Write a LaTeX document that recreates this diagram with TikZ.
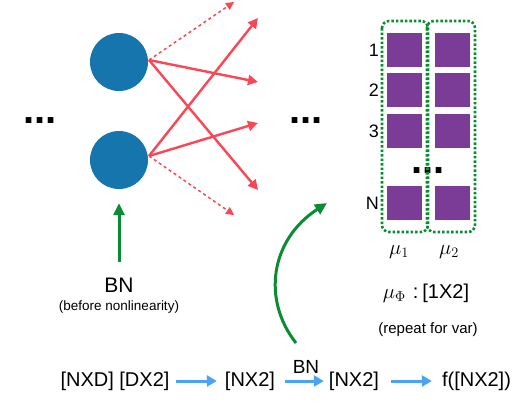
\documentclass[tikz,border=0pt]{standalone}
\usepackage{fontspec}
\setmainfont{Liberation Sans}
\usetikzlibrary{arrows.meta}
\definecolor{nblue}{RGB}{21,117,172}
\definecolor{npurple}{RGB}{122,60,150}
\definecolor{nred}{RGB}{250,70,85}
\definecolor{ngreen}{RGB}{10,140,50}
\definecolor{lblue}{RGB}{75,163,245}
\tikzset{
  neuron/.style={circle,fill=nblue,minimum size=58pt,inner sep=0pt},
  sq/.style={rectangle,fill=npurple,minimum width=35pt,minimum height=34pt,inner sep=0pt},
  redarrow/.style={draw=nred,line width=2.4pt,-{Triangle[length=10pt,width=10pt]}},
  reddots/.style={draw=nred,line width=1.5pt,dash pattern=on 3pt off 3pt,-{Triangle[length=8pt,width=8pt]}},
  garrow/.style={draw=ngreen,line width=3pt,-{Triangle[length=12pt,width=11pt]}},
  barrow/.style={draw=lblue,line width=3pt,-{Triangle[length=10pt,width=11pt]}},
  gbox/.style={draw=ngreen,line width=2.6pt,dash pattern=on 2.5pt off 2pt,rounded corners=7pt},
  txt/.style={inner sep=0pt,font=\fontsize{20}{24}\selectfont},
  lbl/.style={inner sep=0pt,font=\fontsize{18}{22}\selectfont},
  dots/.style={inner sep=0pt,font=\fontsize{40}{40}\selectfont\bfseries}
}
\begin{document}
\begin{tikzpicture}[x=1pt,y=-1pt]
\useasboundingbox (0,0) rectangle (527,408);
% neurons
\node[neuron] (n1) at (119,62) {};
\node[neuron] (n2) at (119,160) {};
% dots
\node[dots,anchor=base] (d1) at (40,123) {...};
\node[dots,anchor=base] (d2) at (306,123) {...};
% arrow end points
\coordinate (e1) at (234,2);
\coordinate (e2) at (258,82);
\coordinate (e3) at (258,190);
\coordinate (e4) at (258,18);
\coordinate (e5) at (258,123);
\coordinate (e6) at (234,215);
\coordinate (o1) at (149,60);
\coordinate (o2) at (149,156);
\draw[reddots] (o1) -- (e1);
\draw[redarrow] (o1) -- (e2);
\draw[redarrow] (o1) -- (e3);
\draw[redarrow] (o2) -- (e4);
\draw[redarrow] (o2) -- (e5);
\draw[reddots] (o2) -- (e6);
% squares
\node[sq] (s11) at (404.5,50) {};
\node[sq] (s12) at (452.5,50) {};
\node[sq] (s21) at (404.5,90) {};
\node[sq] (s22) at (452.5,90) {};
\node[sq] (s31) at (404.5,131) {};
\node[sq] (s32) at (452.5,131) {};
\node[sq] (s41) at (404.5,203) {};
\node[sq] (s42) at (452.5,203) {};
\node[dots,anchor=base] (d3) at (428,173) {...};
\draw[gbox] (382,21) rectangle (428,232);
\draw[gbox] (427,21) rectangle (475,232);
% row labels
\node[lbl,anchor=east] (r1) at (379,50) {1};
\node[lbl,anchor=east] (r2) at (379,90) {2};
\node[lbl,anchor=east] (r3) at (379,131) {3};
\node[lbl,anchor=east] (r4) at (379,203) {N};
% mu labels
\node[inner sep=0pt,font=\fontsize{20}{24}\selectfont] (m1) at (399,252) {$\mu_1$};
\node[inner sep=0pt,font=\fontsize{20}{24}\selectfont] (m2) at (449,252) {$\mu_2$};
\node[txt] (mphi) at (426,293) {$\mu_\Phi$\hspace{7pt}:\hspace{4pt}[1X2]};
\node[inner sep=0pt,font=\fontsize{15}{18}\selectfont] (rep) at (428,330) {(repeat for var)};
% BN before nonlinearity
\node[inner sep=0pt,font=\fontsize{21}{24}\selectfont] (bn1) at (119,285) {BN};
\node[inner sep=0pt,font=\fontsize{13.5}{16}\selectfont] (bnl) at (119,307) {(before nonlinearity)};
\coordinate (g1) at (119,262);
\draw[garrow,shorten >=14pt] (g1) -- (n2);
% bottom row
\node[txt] (t1) at (115,381) {[NXD] [DX2]};
\node[txt] (t2) at (250,381) {[NX2]};
\node[txt] (t3) at (354,381) {[NX2]};
\node[txt] (t4) at (476.5,381) {f([NX2])};
\node[inner sep=0pt,font=\fontsize{19}{22}\selectfont] (bn2) at (306,367) {BN};
\draw[barrow] ([xshift=6pt]t1.east) -- ([xshift=-8pt]t2.west);
\draw[barrow] ([xshift=10pt]t2.east) -- ([xshift=-5pt]t3.west);
\draw[barrow] ([xshift=12pt]t3.east) -- ([xshift=-10pt]t4.west);
% curved green arrow
\coordinate (c0) at (296,343);
\coordinate (c3) at (327,203);
\draw[garrow] (c0) .. controls (262,300) and (270,240) .. (c3);
\end{tikzpicture}
\end{document}
